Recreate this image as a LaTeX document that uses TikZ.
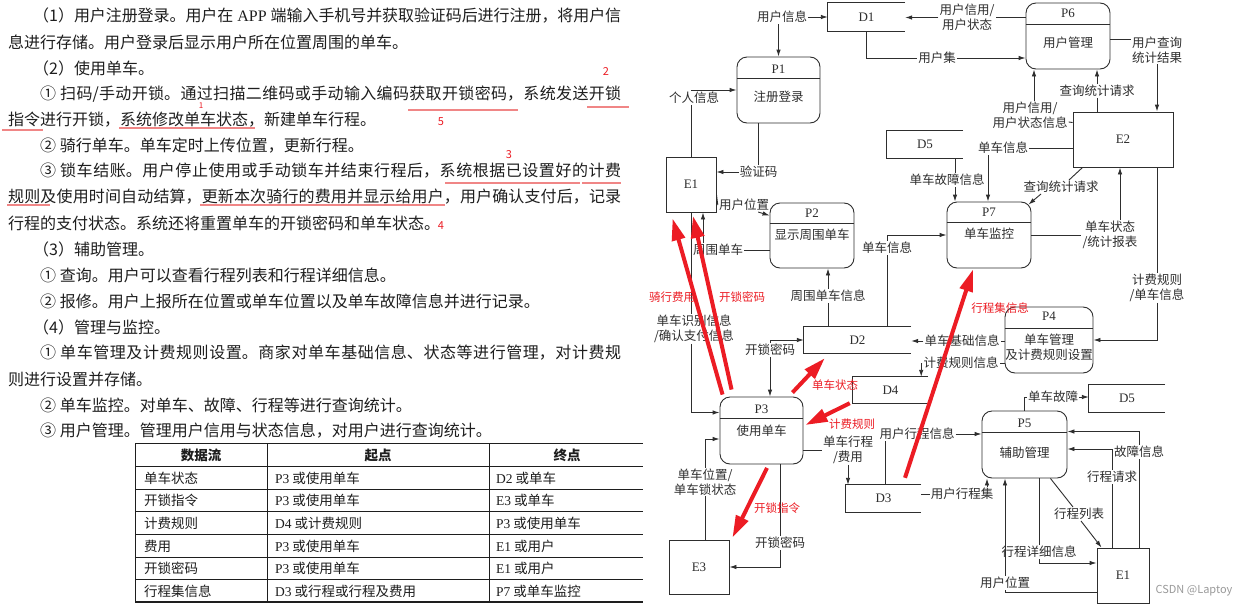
\documentclass[tikz,border=0pt]{standalone}
\usepackage{fontspec}
\setmainfont{Noto Sans CJK SC}
\newfontfamily\lat{Liberation Serif}
\usetikzlibrary{arrows.meta}
\XeTeXlinebreaklocale "zh"
\XeTeXlinebreakskip=0pt plus 4pt minus 1pt

\definecolor{ink}{HTML}{2E2E2E}
\definecolor{body}{HTML}{1E1E1E}
\definecolor{mark}{HTML}{EC1C24}
\definecolor{uline}{HTML}{F08686}
\definecolor{wmark}{HTML}{9A9A9A}
\newcommand{\fsz}[1]{\fontsize{#1}{#1}\selectfont}
\newcommand{\jline}[2]{\parbox{#1}{\parfillskip=0pt\relax #2}}

\begin{document}
\begin{tikzpicture}[
  x=1pt, y=-1pt,
  proc/.style={draw=ink,line width=0.9pt,rounded corners=10pt,minimum width=84pt,minimum height=66pt,inner sep=0pt},
  ext/.style={draw=ink,line width=0.9pt,minimum width=52pt,minimum height=55pt,inner sep=0pt,text=ink,font=\lat\fsz{13}},
  store/.style={minimum width=77pt,minimum height=27pt,inner sep=0pt,text=ink,font=\lat\fsz{13}},
  pid/.style={inner sep=0pt,text=ink,font=\lat\fsz{13}},
  pname/.style={inner sep=0pt,align=center,text=ink,font=\fontsize{12.5}{15}\selectfont},
  lbl/.style={inner sep=1pt,align=center,text=ink,font=\fontsize{12.5}{14.5}\selectfont},
  wire/.style={draw=ink,line width=0.9pt},
  flow/.style={wire,-{Latex[length=7pt,width=4.5pt]}},
  redarr/.style={draw=mark,line width=4pt,-{Triangle[length=22pt,width=13pt]}},
  redlbl/.style={inner sep=0pt,text=mark,font=\fsz{11.5}},
  txt/.style={anchor=west,inner sep=0pt,text=body,font=\fsz{16}},
  cell/.style={anchor=west,inner sep=0pt,text=body,font=\fsz{13.5}},
  thead/.style={inner sep=0pt,text=body,font=\fsz{13.5}\bfseries},
  mk/.style={draw=uline,line width=2pt},
  num/.style={inner sep=0pt,text=mark,font=\fsz{11}}
]
\useasboundingbox (0,0) rectangle (1250,608);
\fill[white] (0,0) rectangle (1250,608);

% left text
\node[txt] (t1) at (33,16) {\jline{588pt}{（1）用户注册登录。用户在\hspace{4pt}{\lat APP}\hspace{4pt}端输入手机号并获取验证码后进行注册，将用户信}};
\node[txt] (t2) at (8,42) {息进行存储。用户登录后显示用户所在位置周围的单车。};
\node[txt] (t3) at (33,68) {（2）使用单车。};
\node[txt] (t4) at (40,94) {\jline{581pt}{①\hspace{4pt}扫码/手动开锁。通过扫描二维码或手动输入编码获取开锁密码，系统发送开锁}};
\node[txt] (t5) at (8,120) {指令进行开锁，系统修改单车状态，新建单车行程。};
\node[txt] (t6) at (40,146) {② 骑行单车。单车定时上传位置，更新行程。};
\node[txt] (t7) at (40,171) {\jline{581pt}{③\hspace{4pt}锁车结账。用户停止使用或手动锁车并结束行程后，系统根据已设置好的计费}};
\node[txt] (t8) at (8,197) {\jline{613pt}{规则及使用时间自动结算，更新本次骑行的费用并显示给用户，用户确认支付后，记录}};
\node[txt] (t9) at (8,223) {行程的支付状态。系统还将重置单车的开锁密码和单车状态。};
\node[txt] (t10) at (33,249) {（3）辅助管理。};
\node[txt] (t11) at (40,275) {① 查询。用户可以查看行程列表和行程详细信息。};
\node[txt] (t12) at (40,301) {② 报修。用户上报所在位置或单车位置以及单车故障信息并进行记录。};
\node[txt] (t13) at (33,327) {（4）管理与监控。};
\node[txt] (t14) at (40,353) {\jline{581pt}{①\hspace{4pt}单车管理及计费规则设置。商家对单车基础信息、状态等进行管理，对计费规}};
\node[txt] (t15) at (8,379) {则进行设置并存储。};
\node[txt] (t16) at (40,405) {② 单车监控。对单车、故障、行程等进行查询统计。};
\node[txt] (t17) at (40,431) {③ 用户管理。管理用户信用与状态信息，对用户进行查询统计。};

% marks on the text
\draw[mk] (408,110) -- (518,110);
\draw[mk] (587,107) -- (629,107);
\draw[mk] (2,130) -- (43,130);
\draw[mk] (119,128) -- (255,128);
\draw[mk] (445,183) -- (580,183);
\draw[mk] (582,183) -- (621,183);
\draw[mk] (7,205) -- (50,205);
\draw[mk] (200,205) -- (445,205);
\node[num] (n2) at (606,72) {2};
\node[num,font=\fsz{8}] (n1) at (201,106) {1};
\node[num] (n5) at (441,122) {5};
\node[num] (n3) at (509,155) {3};
\node[num] (n4) at (441,226) {4};

% table
\draw[body,line width=1.4pt] (135,443.5) -- (643,443.5);
\draw[body,line width=0.7pt] (135,466.5) -- (643,466.5);
\draw[body,line width=0.7pt] (135,489) -- (643,489);
\draw[body,line width=0.7pt] (135,511.7) -- (643,511.7);
\draw[body,line width=0.7pt] (135,534.5) -- (643,534.5);
\draw[body,line width=0.7pt] (135,557) -- (643,557);
\draw[body,line width=0.7pt] (135,579.5) -- (643,579.5);
\draw[body,line width=1.4pt] (135,602) -- (643,602);
\draw[body,line width=0.7pt] (135,443.5) -- (135,602);
\draw[body,line width=0.7pt] (267.5,443.5) -- (267.5,602);
\draw[body,line width=0.7pt] (489,443.5) -- (489,602);
\node[thead] (h1) at (201,455) {数据流};
\node[thead] (h2) at (378,455) {起点};
\node[thead] (h3) at (567,455) {终点};
\node[cell] (r1a) at (144,478) {单车状态};
\node[cell] (r1b) at (275,478) {{\lat P3} 或使用单车};
\node[cell] (r1c) at (496,478) {{\lat D2} 或单车};
\node[cell] (r2a) at (144,500.5) {开锁指令};
\node[cell] (r2b) at (275,500.5) {{\lat P3} 或使用单车};
\node[cell] (r2c) at (496,500.5) {{\lat E3} 或单车};
\node[cell] (r3a) at (144,523) {计费规则};
\node[cell] (r3b) at (275,523) {{\lat D4} 或计费规则};
\node[cell] (r3c) at (496,523) {{\lat P3} 或使用单车};
\node[cell] (r4a) at (144,546) {费用};
\node[cell] (r4b) at (275,546) {{\lat P3} 或使用单车};
\node[cell] (r4c) at (496,546) {{\lat E1} 或用户};
\node[cell] (r5a) at (144,568) {开锁密码};
\node[cell] (r5b) at (275,568) {{\lat P3} 或使用单车};
\node[cell] (r5c) at (496,568) {{\lat E1} 或用户};
\node[cell] (r6a) at (144,591) {行程集信息};
\node[cell] (r6b) at (275,591) {{\lat D3} 或行程或行程及费用};
\node[cell] (r6c) at (496,591) {{\lat P7} 或单车监控};

% data stores
\node[store,minimum height=28pt] (D1) at (866.5,17) {D1};
\node[store,minimum width=107pt,minimum height=26pt] (D2) at (857.5,340) {D2};
\node[store,minimum width=75pt] (D3) at (883.5,498.5) {D3};
\node[store,minimum width=75pt,minimum height=26pt] (D4) at (890.5,390) {D4};
\node[store,minimum width=76pt] (D5) at (925,144.5) {D5};
\node[store,minimum width=76pt] (D5b) at (1127,398.5) {D5};
\draw[wire] (D1.north east) -- (D1.north west) -- (D1.south west) -- (D1.south east);
\draw[wire] (D2.north east) -- (D2.north west) -- (D2.south west) -- (D2.south east);
\draw[wire] (D3.north east) -- (D3.north west) -- (D3.south west) -- (D3.south east);
\draw[wire] (D4.north east) -- (D4.north west) -- (D4.south west) -- (D4.south east);
\draw[wire] (D5.north east) -- (D5.north west) -- (D5.south west) -- (D5.south east);
\draw[wire] (D5b.north east) -- (D5b.north west) -- (D5b.south west) -- (D5b.south east);

% external entities
\node[ext,minimum width=50pt] (E1) at (691,184.5) {E1};
\node[ext,minimum width=100pt] (E2) at (1123,139.5) {E2};
\node[ext,minimum width=60pt,minimum height=54pt] (E3) at (699,567) {E3};
\node[ext] (E1b) at (1123,575.5) {E1};

% processes
\node[proc,minimum width=83pt] (P1) at (778.5,90) {};
\node[proc,minimum height=65pt] (P2) at (812,235.5) {};
\node[proc,minimum width=83pt,minimum height=67pt] (P3) at (761.5,430.5) {};
\node[proc,minimum width=88pt] (P4) at (1049,340) {};
\node[proc,minimum width=85pt,minimum height=67pt] (P5) at (1024.5,444.5) {};
\node[proc] (P6) at (1068,36) {};
\node[proc] (P7) at (989,235) {};
\draw[wire] ([yshift=-22pt]P1.north west) -- ([yshift=-22pt]P1.north east);
\draw[wire] ([yshift=-21pt]P2.north west) -- ([yshift=-21pt]P2.north east);
\draw[wire] ([yshift=-22pt]P3.north west) -- ([yshift=-22pt]P3.north east);
\draw[wire] ([yshift=-22pt]P4.north west) -- ([yshift=-22pt]P4.north east);
\draw[wire] ([yshift=-22pt]P5.north west) -- ([yshift=-22pt]P5.north east);
\draw[wire] ([yshift=-22pt]P6.north west) -- ([yshift=-22pt]P6.north east);
\draw[wire] ([yshift=-21pt]P7.north west) -- ([yshift=-21pt]P7.north east);
\node[pid] (P1n) at ([yshift=-13pt]P1.north) {P1};
\node[pid] (P2n) at ([yshift=-11pt]P2.north) {P2};
\node[pid] (P3n) at ([yshift=-13pt]P3.north) {P3};
\node[pid] (P4n) at ([yshift=-10pt]P4.north) {P4};
\node[pid] (P5n) at ([yshift=-13pt]P5.north) {P5};
\node[pid] (P6n) at ([yshift=-11pt]P6.north) {P6};
\node[pid] (P7n) at ([yshift=-11pt]P7.north) {P7};
\node[pname] (P1t) at ([yshift=-40pt]P1.north) {注册登录};
\node[pname] (P2t) at ([yshift=-32pt]P2.north) {显示周围单车};
\node[pname] (P3t) at ([yshift=-34pt]P3.north) {使用单车};
\node[pname] (P4t) at ([yshift=-41pt]P4.north) {单车管理\\及计费规则设置};
\node[pname] (P5t) at ([yshift=-42pt]P5.north) {辅助管理};
\node[pname] (P6t) at ([yshift=-40pt]P6.north) {用户管理};
\node[pname] (P7t) at ([yshift=-32pt]P7.north) {单车监控};

% flow labels
\node[lbl] (lUinfo) at (782,17) {用户信息};
\node[lbl] (lCredit) at (967,17.5) {用户信用/\\用户状态};
\node[lbl] (lUset) at (937,58) {用户集};
\node[lbl] (lPinfo) at (694,98) {个人信息};
\node[lbl] (lCode) at (758.5,172) {验证码};
\node[lbl] (lUpos1) at (744,205) {用户位置};
\node[lbl] (lAround) at (718,250) {周围单车};
\node[lbl] (lIdent) at (694,329) {单车识别信息\\/确认支付信息};
\node[lbl] (lPwd1) at (770,350) {开锁密码};
\node[lbl] (lAroundInfo) at (828,296) {周围单车信息};
\node[lbl] (lBinfo1) at (887,248) {单车信息};
\node[lbl] (lFault1) at (947,180) {单车故障信息};
\node[lbl] (lBinfo2) at (1003,148) {单车信息};
\node[lbl] (lCredit2) at (1030,115.5) {用户信用/\\用户状态信息};
\node[lbl] (lQuery1) at (1097,91) {查询统计请求};
\node[lbl] (lStat) at (1157,50) {用户查询\\统计结果};
\node[lbl] (lQuery2) at (1061,187) {查询统计请求};
\node[lbl] (lBstat) at (1110,235) {单车状态\\/统计报表};
\node[lbl] (lRule) at (1157,288) {计费规则\\/单车信息};
\node[lbl] (lBbase) at (962,341) {单车基础信息};
\node[lbl] (lRuleInfo) at (961,363) {计费规则信息};
\node[lbl] (lFault2) at (1053,397) {单车故障};
\node[lbl] (lFaultInfo) at (1139,452) {故障信息};
\node[lbl] (lTripReq) at (1112,477) {行程请求};
\node[lbl] (lTripList) at (1079,514) {行程列表};
\node[lbl] (lTripDet) at (1039,552) {行程详细信息};
\node[lbl] (lUpos2) at (1005,583) {用户位置};
\node[lbl] (lTripSet) at (962,494) {用户行程集};
\node[lbl] (lTripInfo) at (917,434) {用户行程信息};
\node[lbl] (lTripFee) at (848,450) {单车行程\\/费用};
\node[lbl] (lBpos) at (705,482) {单车位置/\\单车锁状态};
\node[lbl] (lPwd2) at (780,543) {开锁密码};

% flows
\draw[flow] (lUinfo.east) -- (D1.west |- lUinfo.east);
\draw[flow] (lUinfo.south -| P1.north) -- (P1.north);
\draw[wire] (P6.west |- lCredit.east) -- (lCredit.east);
\draw[flow] (lCredit.west) -- (D1.east |- lCredit.west);
\draw[wire] (D1.south) -- (D1.south |- lUset.west) -- (lUset.west);
\draw[flow] (lUset.east) -- (P6.west |- lUset.east);
\draw[wire] (E1.north) -- (E1.north |- lPinfo.south);
\draw[flow] (lPinfo.north -| E1.north) -- (E1.north |- P1.west) -- (P1.west);
\draw[wire] (lCode.north |- P1.south) -- (lCode.north);
\draw[flow] (lCode.west) -- (E1.east |- lCode.west);
\draw[wire] ([yshift=-10pt]E1.east) -- (lUpos1.west);
\draw[flow] ([xshift=-12pt]lUpos1.south east) -- ([yshift=20pt]P2.west);
\draw[wire] (P2.west |- lAround.east) -- (lAround.east);
\draw[flow] ([xshift=12pt]E1.south |- lAround.north) -- ([xshift=12pt]E1.south);
\draw[wire] (E1.south) -- (E1.south |- lIdent.north);
\draw[flow] (E1.south |- lIdent.south) |- ([yshift=18pt]P3.west);
\draw[flow] (lPwd1.north) |- (D2.west);
\draw[flow] (lPwd1.south) -- (lPwd1.south |- P3.north);
\draw[wire] (lAroundInfo.south |- D2.north) -- (lAroundInfo.south);
\draw[flow] (lAroundInfo.north) -- (lAroundInfo.north |- P2.south);
\draw[wire] (lBinfo1.south |- D2.north) -- (lBinfo1.south);
\draw[flow] (lBinfo1.north) |- (P7.west);
\draw[wire] ([xshift=8pt]lFault1.north |- D5.south) -- ([xshift=8pt]lFault1.north);
\draw[flow] ([xshift=8pt]lFault1.south) -- ([xshift=8pt]lFault1.south |- P7.north);
\draw[wire] (lBinfo2.east) -- (E2.west |- lBinfo2.east);
\draw[flow] ([xshift=-15pt]lBinfo2.south) -- ([xshift=-15pt]lBinfo2.south |- P7.north);
\draw[wire] ([yshift=-6.5pt]lCredit2.east) -- ([yshift=17pt]E2.west);
\draw[flow] ([xshift=4pt]lCredit2.north) -- ([xshift=4pt]lCredit2.north |- P6.south);
\draw[wire] (lQuery1.south) -- (lQuery1.south |- E2.north);
\draw[flow] (lQuery1.north) -- (lQuery1.north |- P6.south);
\draw[wire] ([yshift=-3pt]P6.east) -- ([yshift=11pt]lStat.west);
\draw[flow] (lStat.south) -- (lStat.south |- E2.north);
\draw[wire] ([xshift=10pt]E2.south west) -- ([xshift=8pt]lQuery2.north);
\draw[flow] ([xshift=-20pt]lQuery2.south) -- ([xshift=-3pt,yshift=-3pt]P7.north east);
\draw[wire] (P7.east) -- (lBstat.west);
\draw[flow] ([xshift=10pt]lBstat.north) -- ([xshift=10pt]lBstat.north |- E2.south);
\draw[wire] (lRule.north |- E2.south) -- (lRule.north);
\draw[flow] (lRule.south) |- (P4.east);
\draw[wire] (P4.west |- lBbase.east) -- (lBbase.east);
\draw[flow] (lBbase.west) -- (D2.east |- lBbase.west);
\draw[wire] (P4.west |- lRuleInfo.east) -- (lRuleInfo.east);
\draw[flow] (lRuleInfo.west) -| ([xshift=-7pt]D4.north east);
\draw[wire] (P5.north) |- (lFault2.west);
\draw[flow] (lFault2.east) -- (D5b.west |- lFault2.east);
\draw[wire] (lFaultInfo.south |- E1b.north) -- (lFaultInfo.south);
\draw[flow] (lFaultInfo.north) |- ([yshift=13pt]P5.east);
\draw[wire] (lTripReq.south |- E1b.north) -- (lTripReq.south);
\draw[flow] (lTripReq.north) |- ([yshift=-4.5pt]P5.east);
\draw[wire] ([xshift=-17pt]P5.south east) -- ([xshift=-6pt]lTripList.north);
\draw[flow] ([xshift=2pt]lTripList.south) -- ([xshift=5pt]E1b.north west);
\draw[wire] (lTripDet.north |- P5.south) -- (lTripDet.north);
\draw[flow] (lTripDet.south) |- ([yshift=12.5pt]E1b.west);
\draw[wire] ([yshift=-16.5pt]E1b.west) -| (lUpos2.south);
\draw[flow] (lUpos2.north) -- (lUpos2.north |- P5.south);
\draw[wire] (D3.east |- lTripSet.west) -- (lTripSet.west);
\draw[flow] ([xshift=25pt]lTripSet.north) -- ([xshift=25pt]lTripSet.north |- P5.south);
\draw[wire] ([xshift=-32pt]lTripInfo.south |- D3.north) -- ([xshift=-32pt]lTripInfo.south);
\draw[flow] (lTripInfo.east) -- (P5.west |- lTripInfo.east);
\draw[wire] (P3.east |- lTripFee.west) -- (lTripFee.west);
\draw[flow] (lTripFee.south) -- (lTripFee.south |- D3.north);
\draw[wire] (lBpos.south |- E3.north) -- (lBpos.south);
\draw[flow] (lBpos.north) |- ([yshift=-8.5pt]P3.west);
\draw[wire] (lPwd2.north |- P3.south) -- (lPwd2.north);
\draw[flow] (lPwd2.south) |- (E3.east);

% red marks
\draw[redarr] ([xshift=3pt,yshift=2pt]P3.north west) -- ([xshift=7pt,yshift=-6pt]E1.south west);
\draw[redarr] ([xshift=12pt,yshift=7pt]P3.north west) -- ([xshift=2pt,yshift=-3.5pt]E1.south);
\draw[redarr] ([xshift=-11pt,yshift=4pt]P3.north east) -- ([xshift=21pt,yshift=-5pt]D2.south west);
\draw[redarr] ([xshift=-3pt]D4.south west) -- ([xshift=2pt,yshift=5.5pt]P3.east);
\draw[redarr] ([xshift=5.5pt,yshift=-3.5pt]P3.south) -- ([xshift=3pt,yshift=2pt]E3.north east);
\draw[redarr] ([xshift=21.5pt,yshift=7pt]D3.north) -- ([xshift=-16pt,yshift=-1pt]P7.south);
\node[redlbl] (rFee) at (672,297) {骑行费用};
\node[redlbl] (rPwd) at (742,297) {开锁密码};
\node[redlbl] (rState) at (835,385) {单车状态};
\node[redlbl] (rRule) at (852,424) {计费规则};
\node[redlbl] (rCmd) at (777,508) {开锁指令};
\node[redlbl] (rTrip) at (1000,308) {行程集信息};

\node[inner sep=0pt,text=wmark,font=\fsz{11}] (wm) at (1194,591) {CSDN @Laptoy};
\end{tikzpicture}
\end{document}
